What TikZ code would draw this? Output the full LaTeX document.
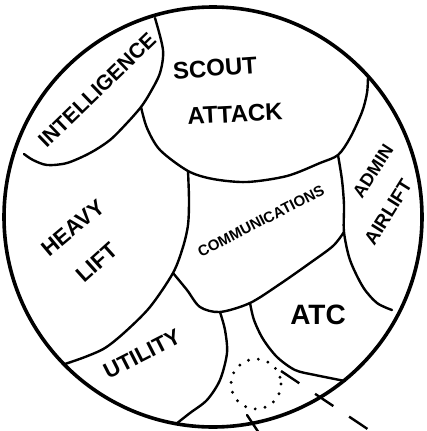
\documentclass[tikz,border=0pt]{standalone}
\usepackage{fontspec}
\setmainfont{Liberation Sans}
\usepackage{tikz}
\begin{document}
\begin{tikzpicture}[x=1pt,y=-1pt,
  rim/.style={line width=3.6pt},
  wall/.style={line width=2.4pt,line cap=round,line join=round},
  lbl/.style={inner sep=0pt,font=\fontsize{#1}{#1}\selectfont}]
\useasboundingbox (0,0) rectangle (427,431);
\draw[rim] (213,217) ellipse [x radius=209,y radius=210];
\coordinate (ja) at (141,107);
\coordinate (jb) at (188,171);
\coordinate (jc) at (338,155);
\coordinate (jd) at (344,232);
\coordinate (je) at (173,273);
\coordinate (jf) at (220,312);
\coordinate (jg) at (250,303);
\draw[wall] plot[smooth] coordinates {(155,18) (163,50) (160,73) (150,93) (ja) (127,123) (110,140) (90,153) (67,163) (47,165) (33,160) (24,154)};
\draw[wall] plot[smooth] coordinates {(ja) (147,128) (160,150) (jb) (213,179) (247,182) (287,176) (320,163) (jc) (350,138) (362,112) (367,93) (368,77)};
\draw[wall] plot[smooth] coordinates {(jb) (189,200) (188,225) (183,247) (je) (150,307) (125,332) (105,348) (85,357) (65,364)};
\draw[wall] plot[smooth] coordinates {(jc) (342,180) (344,205) (jd) (350,260) (363,287) (377,303) (392,310)};
\draw[wall] plot[smooth] coordinates {(jd) (333,246) (310,263) (280,284) (jg) (jf) (200,307) (187,290) (je)};
\draw[wall] plot[smooth] coordinates {(jf) (225,330) (227,353) (220,380) (207,400) (190,413) (176,424)};
\draw[wall] plot[smooth] coordinates {(jg) (254,320) (263,339) (277,357) (295,370) (315,375) (345,381)};
\draw[line width=3.2pt,line cap=round,dash pattern=on 0pt off 10pt] (256,384) circle [radius=25];
\coordinate (dz) at (281,371);
\draw[wall,line cap=butt,dash pattern=on 22pt off 19pt] (dz) -- ++(100,67);
\draw[wall] (247,415) -- (259,433);
\node[lbl=21,rotate=44] (intel) at (97,90) {\bfseries INTELLIGENCE};
\node[lbl=24,rotate=4] (scout) at (215,68) {\bfseries SCOUT};
\node[lbl=24,rotate=3] (attack) at (235,114) {\bfseries ATTACK};
\node[lbl=22,rotate=40] (heavy) at (73,228) {\bfseries HEAVY};
\node[lbl=22,rotate=42] (lift) at (97,262) {\bfseries LIFT};
\node[lbl=15,rotate=27] (comm) at (261,221) {\bfseries COMMUNICATIONS};
\node[lbl=18,rotate=57] (admin) at (373,171) {\bfseries ADMIN};
\node[lbl=19,rotate=58] (airlift) at (388,212) {\bfseries AIRLIFT};
\node[lbl=28] (atc) at (318,315) {\bfseries ATC};
\node[lbl=22,rotate=27] (util) at (142,354) {\bfseries UTILITY};
\end{tikzpicture}
\end{document}
